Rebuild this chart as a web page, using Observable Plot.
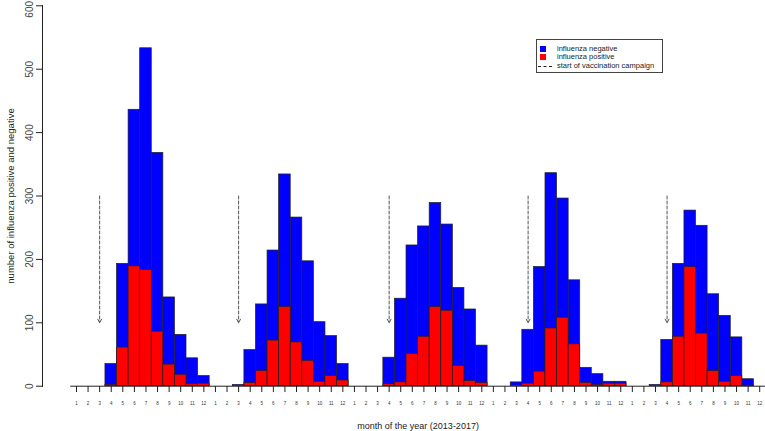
<!DOCTYPE html>
<html>
<head>
<meta charset="utf-8">
<script src="https://cdn.jsdelivr.net/npm/d3@7"></script>
<script src="https://cdn.jsdelivr.net/npm/@observablehq/plot@0.6"></script>
<style>
  html, body { margin: 0; padding: 0; background: #fff; }
  #wrap { position: relative; width: 765px; height: 431px; font-family: "Liberation Sans", Arial, sans-serif; }
  #chart { position: absolute; left: 0; top: 0; }
  #legend { position: absolute; left: 536px; top: 39px; width: 125px; height: 32px; border: 1px solid #444; background: #fff; font-size: 7.5px; color: #222; }
  #legend .sw { position: absolute; left: 3px; width: 6px; height: 6px; }
  #legend .ln { position: absolute; left: 1px; width: 14px; height: 0; border-top: 1px dashed #222; }
  #legend .tx { position: absolute; left: 20px; line-height: 8px; white-space: nowrap; }
</style>
</head>
<body>
<div id="wrap">
  <div id="chart"></div>
  <div id="legend">
    <div class="sw" style="top:6px;background:#0000ff;"></div>
    <div class="tx" style="top:4.5px;">influenza negative</div>
    <div class="sw" style="top:14px;background:#ff0000;"></div>
    <div class="tx" style="top:13px;">influenza positive</div>
    <div class="ln" style="top:25.5px;"></div>
    <div class="tx" style="top:22px;">start of vaccination campaign</div>
  </div>
</div>
<script>
// ---- data ----
const years = [2013, 2014, 2015, 2016, 2017];
const monthLabels = ["1","2","3","4","5","6","7","8","9","10","11","12"];
// total tested (top of blue bar) per month
const total2013 = [0, 0, 0, 35, 193, 436, 533, 368, 140, 81, 44, 16];
const total2014 = [0, 0, 2, 57, 129, 214, 334, 266, 197, 101, 79, 35];
const total2015 = [0, 0, 0, 45, 138, 222, 252, 289, 255, 155, 121, 64];
const total2016 = [0, 0, 6, 89, 188, 336, 296, 167, 29, 19, 7, 7];
const total2017 = [0, 0, 2, 73, 193, 277, 253, 145, 111, 77, 11, 0];
// influenza positive (red bar) per month
const pos2013 = [0, 0, 0, 2, 61, 189, 183, 86, 34, 18, 3, 4];
const pos2014 = [0, 0, 0, 5, 24, 72, 125, 69, 40, 7, 16, 9];
const pos2015 = [0, 0, 0, 3, 6, 51, 78, 125, 119, 32, 8, 5];
const pos2016 = [0, 0, 0, 4, 23, 91, 108, 66, 5, 2, 4, 4];
const pos2017 = [0, 0, 0, 6, 78, 188, 83, 24, 7, 16, 1, 0];
// month in which the vaccination campaign started, per year
const campaignStart = [3, 3, 4, 4, 4];
const arrowFrom = 300, arrowTo = 100;
const yTicks = [0, 100, 200, 300, 400, 500, 600];
const xTitle = "month of the year (2013-2017)";
const yTitle = "number of influenza positive and negative";

// ---- build table ----
const totals = [total2013, total2014, total2015, total2016, total2017];
const positives = [pos2013, pos2014, pos2015, pos2016, pos2017];
const rows = [];
years.forEach((yr, yi) => {
  monthLabels.forEach((m, mi) => {
    rows.push({i: yi * 12 + mi, total: totals[yi][mi], pos: positives[yi][mi]});
  });
});
const nMonths = rows.length;
const campaigns = campaignStart.map((m, yi) => ({i: yi * 12 + (m - 1)}));
const yMax = yTicks[yTicks.length - 1];

const chart = Plot.plot({
  width: 765,
  height: 431,
  marginLeft: 42,
  marginRight: 0,
  marginTop: 5,
  marginBottom: 45,
  style: {fontFamily: "'Liberation Sans', Arial, sans-serif", background: "transparent", color: "#222"},
  x: {type: "linear", domain: [-0.5, nMonths - 0.5], range: [70.2, 765], axis: null},
  y: {domain: [0, yMax], range: [385.7, 5.3], axis: null},
  marks: [
    Plot.rect(rows, {x1: d => d.i - 0.5, x2: d => d.i + 0.5, y1: 0, y2: "total", fill: "#0000ff", stroke: "#222", strokeWidth: 0.7}),
    Plot.rect(rows, {x1: d => d.i - 0.5, x2: d => d.i + 0.5, y1: 0, y2: "pos", fill: "#ff0000", stroke: "#222", strokeWidth: 0.7}),
    Plot.ruleY([0], {x1: -0.5, x2: nMonths - 0.5, stroke: "#222", strokeWidth: 1}),
    Plot.arrow(campaigns, {x: "i", y1: arrowFrom, y2: arrowTo, stroke: "#555", strokeWidth: 1, strokeDasharray: "3,2", headLength: 6, headAngle: 55}),
    Plot.axisX({ticks: d3.range(nMonths), tickSize: 6, tickPadding: 9, tickFormat: i => monthLabels[i % 12], fontSize: 4.5, stroke: "#222", fill: "#333", label: null}),
    Plot.axisY({ticks: yTicks, tickSize: 6, tickFormat: () => "", stroke: "#222", label: null}),
    Plot.frame({anchor: "left", stroke: "#222"}),
    Plot.text(yTicks.filter(t => t < yMax), {y: d => d, text: d => String(d), frameAnchor: "left", textAnchor: "middle", lineAnchor: "middle", dx: -13, rotate: -90, fontSize: 10, fill: "#444"}),
    Plot.text([yMax], {y: d => d, text: d => String(d), frameAnchor: "left", textAnchor: "middle", lineAnchor: "middle", dx: -13, dy: 3.5, rotate: -90, fontSize: 10, fill: "#444"}),
    Plot.text([yTitle], {y: () => yMax / 2, text: d => d, frameAnchor: "left", textAnchor: "middle", lineAnchor: "middle", dx: -32, rotate: -90, fontSize: 9.5, fill: "#222"}),
    Plot.text([xTitle], {x: () => (nMonths - 1) / 2, text: d => d, frameAnchor: "bottom", lineAnchor: "middle", dy: 39.5, fontSize: 9, fill: "#222"})
  ]
});
document.getElementById("chart").appendChild(chart);
</script>
</body>
</html>
